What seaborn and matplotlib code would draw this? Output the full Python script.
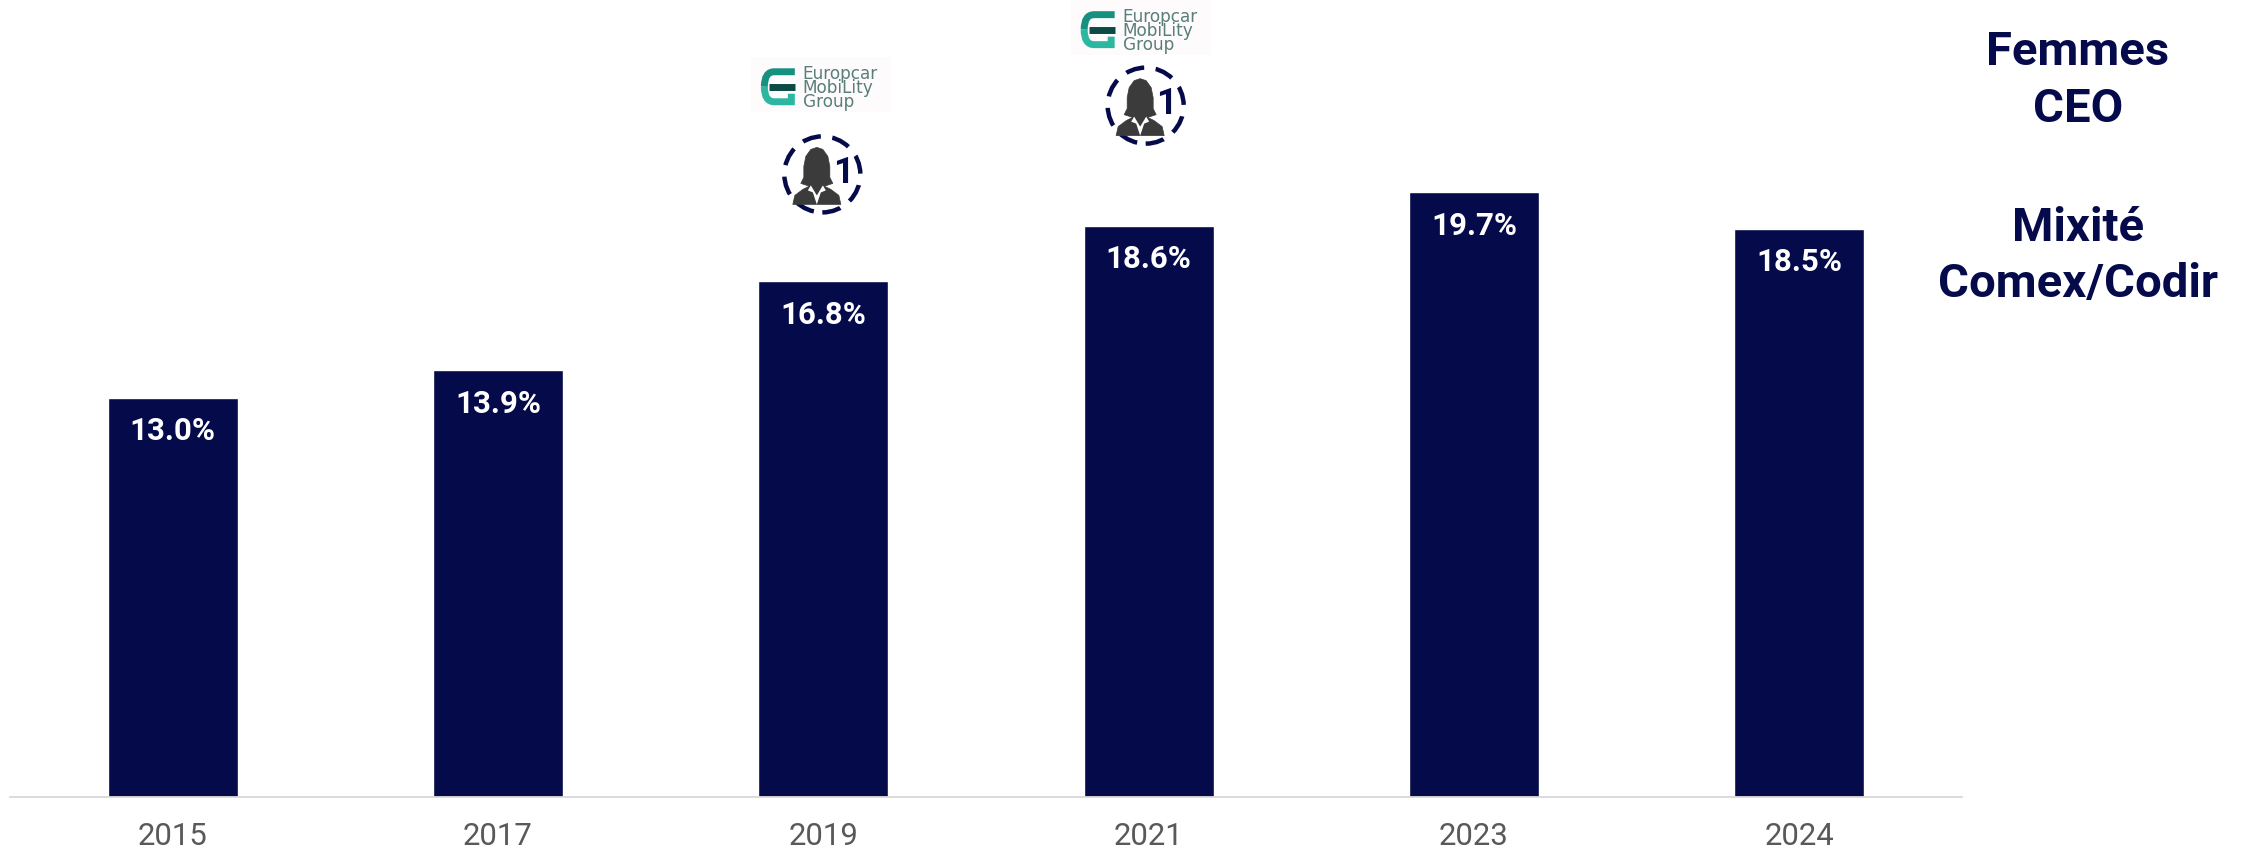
import matplotlib
matplotlib.use("Agg")
import matplotlib.pyplot as plt
import pandas as pd
import seaborn as sns
from matplotlib.patches import Ellipse, PathPatch, Polygon, Rectangle
from matplotlib.path import Path
from matplotlib.transforms import Affine2D, IdentityTransform

NAVY = "#050A4B"
GREY_TEXT = "#595959"
FIG_W, FIG_H = 2248, 852

years = ["2015", "2017", "2019", "2021", "2023", "2024"]
mixite = [13.0, 13.9, 16.8, 18.6, 19.7, 18.5]

# women CEO markers, placed above their bars
ceo_years = ["2019", "2021"]
ceo_counts = [1, 1]
ceo_heights = [20.28, 22.52]
logo_heights = [23.2, 25.06]
logo_lines = ["Europcar", "MobiLity", "Group"]

side_labels = ["Femmes", "CEO", "Mixité", "Comex/Codir"]
side_baselines = [65, 122, 241, 297]

# the icons sit a little left of the bar centre in the original (pixels)
person_shift = [-1, -3]
logo_shift = [-2, -7.5]

sns.set_theme(style="white")
plt.rcParams["font.family"] = ["Roboto", "DejaVu Sans"]

df = pd.DataFrame({"year": years, "mixite": mixite})

fig = plt.figure(figsize=(FIG_W / 100, FIG_H / 100), dpi=100)
ax = fig.add_axes([10 / FIG_W, 55 / FIG_H, 1952 / FIG_W, 797 / FIG_H])

sns.barplot(data=df, x="year", y="mixite", order=years, color=NAVY,
            saturation=1, width=0.4, ax=ax)
ax.set_xlim(-0.5, 5.5)
ax.set_ylim(0, 797 / 30.7)
ax.set_xlabel("")
ax.set_ylabel("")
ax.set_yticks([])
ax.patch.set_alpha(0)
sns.despine(ax=ax, left=True)
ax.spines["bottom"].set_color("#D9D9D9")
ax.spines["bottom"].set_linewidth(1.3)
ax.tick_params(axis="x", length=0, pad=18, labelsize=22.4, labelcolor=GREY_TEXT)

for i, val in enumerate(mixite):
    ax.annotate(f"{val:.1f}%", (i, val), xytext=(0, -24), textcoords="offset points",
                ha="center", va="center", color="white", fontsize=22.5, fontweight="bold")


def draw_person(cx, cy, count):
    """Dashed circle, woman silhouette and the count, all in pixels."""
    to_px = Affine2D().translate(cx, cy) + IdentityTransform()
    dark = "#3B3B3B"
    ax.add_patch(Ellipse((0, 0), 76, 76, fill=False, ec=NAVY, lw=3.2, ls=(0, (4.2, 2.6)),
                         transform=to_px, clip_on=False, zorder=3))
    hair = [(-16, -9), (-13, -3), (-13, 8), (-11, 18), (-6, 25), (0, 27), (6, 25),
            (11, 18), (13, 8), (13, -3), (16, -9), (7, -12), (-7, -12)]
    body = [(-24, -30), (-22, -21), (-14, -15), (-6, -11), (6, -11), (14, -15),
            (22, -21), (24, -30)]
    collar = [(-6, -11), (-9, -16), (-4, -18), (0, -30), (4, -18), (9, -16), (6, -11), (0, -21)]
    shift = Affine2D().translate(-5.5, 0) + to_px
    for shape in (hair, body):
        ax.add_patch(Polygon(shape, fc=dark, ec=dark, lw=0.5, joinstyle="round",
                             transform=shift, clip_on=False, zorder=4))
    ax.add_patch(Polygon(collar, fc="white", ec="none",
                         transform=shift, clip_on=False, zorder=5))
    ax.text(21, 1.5, str(count), transform=to_px, ha="center", va="center",
            color=NAVY, fontsize=26, fontweight="bold", zorder=6)


def draw_logo(cx, cy):
    """Rough redraw of the group logo: teal E mark and three lines of text."""
    to_px = Affine2D().translate(cx, cy) + IdentityTransform()
    ax.add_patch(Rectangle((-70, -27.5), 140, 55, fc="#FDFBFC", ec="none",
                           transform=to_px, clip_on=False, zorder=2))
    strokes = [
        ([(-26.5, 13), (-47, 13), (-57, 13), (-57, -2)],
         [Path.MOVETO, Path.LINETO, Path.CURVE3, Path.CURVE3], "#17917F"),
        ([(-57, -2), (-57, -17), (-47, -17), (-30, -17), (-30, -9)],
         [Path.MOVETO, Path.CURVE3, Path.CURVE3, Path.LINETO, Path.LINETO], "#2BB7A0"),
        ([(-52, -2), (-26.5, -2)], [Path.MOVETO, Path.LINETO], "#0C4A45"),
    ]
    for verts, codes, colour in strokes:
        ax.add_patch(PathPatch(Path(verts, codes), fill=False, ec=colour, lw=5, capstyle="butt",
                               transform=to_px, clip_on=False, zorder=3))
    for line, y in zip(logo_lines, [11, -3.5, -17.5]):
        ax.text(-18.5, y, line, transform=to_px, ha="left", va="center",
                color="#5A7E79", fontsize=12.2, fontfamily="DejaVu Sans", zorder=4)


fig.canvas.draw()
for n, year in enumerate(ceo_years):
    i = years.index(year)
    px, py = ax.transData.transform((i, ceo_heights[n]))
    draw_person(px + person_shift[n], py, ceo_counts[n])
    lx, ly = ax.transData.transform((i, logo_heights[n]))
    draw_logo(lx + logo_shift[n], ly)

for label, base in zip(side_labels, side_baselines):
    fig.text(2078 / FIG_W, 1 - base / FIG_H, label, ha="center", va="baseline",
             color=NAVY, fontsize=34, fontweight="bold")

fig.savefig("out.png", dpi=100)
